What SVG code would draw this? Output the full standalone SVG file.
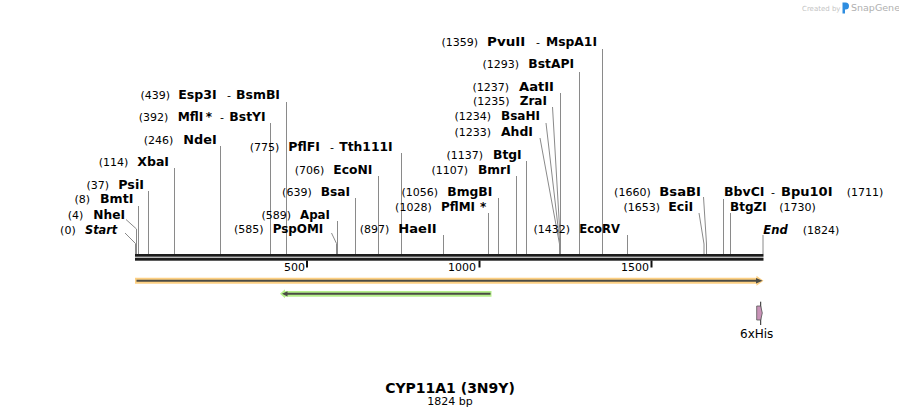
<svg xmlns="http://www.w3.org/2000/svg" width="899" height="417" viewBox="0 0 899 417">
<style>
text{font-family:"DejaVu Sans","Liberation Sans",sans-serif;fill:#000}
.p{font-size:11px}
.e{font-size:11px;text-anchor:end}
.n{font-size:12px;font-weight:bold}
.i{font-size:12px;font-weight:bold;font-style:italic}
.d{font-size:11px}
.cut{stroke:#8a8a8a;stroke-width:1;fill:none}
.tick{stroke:#111;stroke-width:2}
.wm{fill:#c4c4c4}
</style>
<rect width="899" height="417" fill="#fff"/>
<g id="watermark">
<text x="802" y="10.5" class="wm" style="font-size:7px">Created by</text>
<path d="M842.5,2.5 h3 a3.5,3.5 0 0 1 0,7 h-0.5 v4 h-2.5 z" fill="#2e8de0"/>
<text x="851" y="11" class="wm" style="font-size:9.5px;fill:#b0b0b0">SnapGene</text>
</g>
<g id="connectors">
<polyline class="cut" points="125,233 135.5,243.5 135.5,254"/>
<polyline class="cut" points="126,219.5 136.5,229 136.5,254"/>
<line class="cut" x1="138.5" y1="206" x2="138.5" y2="254"/>
<line class="cut" x1="148.5" y1="191" x2="148.5" y2="254"/>
<line class="cut" x1="174.5" y1="168" x2="174.5" y2="254"/>
<line class="cut" x1="220.5" y1="146" x2="220.5" y2="254"/>
<line class="cut" x1="270.5" y1="123" x2="270.5" y2="254"/>
<line class="cut" x1="286.5" y1="102" x2="286.5" y2="254"/>
<polyline class="cut" points="331.5,233 336.5,243.5 336.5,254"/>
<line class="cut" x1="337.5" y1="221" x2="337.5" y2="254"/>
<line class="cut" x1="355.5" y1="198" x2="355.5" y2="254"/>
<line class="cut" x1="378.5" y1="176" x2="378.5" y2="254"/>
<line class="cut" x1="401.5" y1="153" x2="401.5" y2="254"/>
<line class="cut" x1="443.5" y1="235" x2="443.5" y2="254"/>
<line class="cut" x1="488.5" y1="213" x2="488.5" y2="254"/>
<line class="cut" x1="498.5" y1="198" x2="498.5" y2="254"/>
<line class="cut" x1="516.5" y1="176" x2="516.5" y2="254"/>
<line class="cut" x1="526.5" y1="161" x2="526.5" y2="254"/>
<polyline class="cut" points="540,138 559.5,244 559.5,254"/>
<polyline class="cut" points="546,123 560,244 560,254"/>
<polyline class="cut" points="552.5,107 560.5,244 560.5,254"/>
<line class="cut" x1="560.5" y1="93" x2="560.5" y2="254"/>
<line class="cut" x1="579.5" y1="72" x2="579.5" y2="254"/>
<line class="cut" x1="602.5" y1="49" x2="602.5" y2="254"/>
<line class="cut" x1="627.5" y1="235" x2="627.5" y2="254"/>
<polyline class="cut" points="699,213 704,244 704,254"/>
<polyline class="cut" points="703.5,197 706.5,244 706.5,254"/>
<line class="cut" x1="723.5" y1="199" x2="723.5" y2="254"/>
<line class="cut" x1="730.5" y1="213" x2="730.5" y2="254"/>
<line class="cut" x1="763" y1="235" x2="763" y2="254"/>
</g>
<g id="backbone">
<rect x="135" y="254" width="628.5" height="2.7" fill="#1c1c1c"/>
<rect x="135" y="257.7" width="628.5" height="3" fill="#1c1c1c"/>
<line class="tick" x1="307" y1="260.5" x2="307" y2="267.5"/>
<line class="tick" x1="479.5" y1="260.5" x2="479.5" y2="267.5"/>
<line class="tick" x1="651.5" y1="260.5" x2="651.5" y2="267.5"/>
<text class="p" x="284" y="271">500</text>
<text class="p" x="448" y="271">1000</text>
<text class="p" x="621" y="271">1500</text>
</g>
<g id="feature-cyp11a1">
<polygon points="135,277.7 756.5,277.7 756.5,275.7 763.5,280.7 756.5,285.7 756.5,283.7 135,283.7" fill="#fdd083"/>
<line x1="136.5" y1="280.7" x2="757" y2="280.7" stroke="#4b4b45" stroke-width="2"/>
<polygon points="756,278 762.5,280.7 756,283.4" fill="#4b4b45"/>
</g>
<g id="feature-reverse">
<polygon points="491.5,291 285,291 285,289.3 280,293.8 285,298.3 285,296.7 491.5,296.7" fill="#b6f08c"/>
<line x1="287" y1="293.8" x2="490.5" y2="293.8" stroke="#4b4b45" stroke-width="2"/>
<polygon points="287.5,291.2 282,293.8 287.5,296.4" fill="#4b4b45"/>
</g>
<g id="feature-6xHis">
<line x1="760.7" y1="301.7" x2="760.7" y2="325" stroke="#222" stroke-width="1"/>
<polygon points="756.7,306 760.7,306 762.3,313 760.7,320 756.7,320" fill="#c993b8" stroke="#555" stroke-width="0.8"/>
<text x="740" y="338" style="font-size:12px">6xHis</text>
</g>
<g id="site-start"><text class="e" x="75.7" y="234">(0)</text><text class="i" x="85" y="234" textLength="32.3" lengthAdjust="spacingAndGlyphs">Start</text></g>
<g id="site-NheI"><text class="e" x="83.3" y="219">(4)</text><text class="n" x="93.3" y="219" textLength="31.7" lengthAdjust="spacingAndGlyphs">NheI</text></g>
<g id="site-BmtI"><text class="e" x="90" y="203">(8)</text><text class="n" x="100" y="203" textLength="33.3" lengthAdjust="spacingAndGlyphs">BmtI</text></g>
<g id="site-PsiI"><text class="e" x="109" y="189">(37)</text><text class="n" x="118.3" y="189" textLength="25.7" lengthAdjust="spacingAndGlyphs">PsiI</text></g>
<g id="site-XbaI"><text class="e" x="128.3" y="166">(114)</text><text class="n" x="137.3" y="166" textLength="31.7" lengthAdjust="spacingAndGlyphs">XbaI</text></g>
<g id="site-NdeI"><text class="e" x="173.3" y="144">(246)</text><text class="n" x="183.3" y="144" textLength="33.4" lengthAdjust="spacingAndGlyphs">NdeI</text></g>
<g id="site-MflI"><text class="e" x="168.3" y="121">(392)</text><text class="n" x="177.7" y="121" textLength="25.6" lengthAdjust="spacingAndGlyphs">MflI</text><text class="n" x="205.7" y="121">*</text><text class="d" x="220" y="121">-</text><text class="n" x="229.3" y="121" textLength="36.4" lengthAdjust="spacingAndGlyphs">BstYI</text></g>
<g id="site-Esp3I"><text class="e" x="170" y="99">(439)</text><text class="n" x="178.3" y="99" textLength="38.4" lengthAdjust="spacingAndGlyphs">Esp3I</text><text class="d" x="227" y="99">-</text><text class="n" x="236" y="99" textLength="44" lengthAdjust="spacingAndGlyphs">BsmBI</text></g>
<g id="site-PspOMI"><text class="e" x="263.5" y="233">(585)</text><text class="n" x="272.7" y="233" textLength="50.6" lengthAdjust="spacingAndGlyphs">PspOMI</text></g>
<g id="site-ApaI"><text class="e" x="291" y="219">(589)</text><text class="n" x="300" y="219" textLength="30" lengthAdjust="spacingAndGlyphs">ApaI</text></g>
<g id="site-BsaI"><text class="e" x="311.7" y="196">(639)</text><text class="n" x="320.7" y="196" textLength="29.3" lengthAdjust="spacingAndGlyphs">BsaI</text></g>
<g id="site-EcoNI"><text class="e" x="324.3" y="174">(706)</text><text class="n" x="333.3" y="174" textLength="39" lengthAdjust="spacingAndGlyphs">EcoNI</text></g>
<g id="site-PflFI"><text class="e" x="279.3" y="151">(775)</text><text class="n" x="288.3" y="151" textLength="31.7" lengthAdjust="spacingAndGlyphs">PflFI</text><text class="d" x="330" y="151">-</text><text class="n" x="339.3" y="151" textLength="53.4" lengthAdjust="spacingAndGlyphs">Tth111I</text></g>
<g id="site-HaeII"><text class="e" x="389.3" y="233">(897)</text><text class="n" x="398.3" y="233" textLength="38.4" lengthAdjust="spacingAndGlyphs">HaeII</text></g>
<g id="site-PflMI"><text class="e" x="431.7" y="211">(1028)</text><text class="n" x="441" y="211" textLength="34" lengthAdjust="spacingAndGlyphs">PflMI</text><text class="n" x="480" y="211">*</text></g>
<g id="site-BmgBI"><text class="e" x="438" y="196">(1056)</text><text class="n" x="447.3" y="196" textLength="45" lengthAdjust="spacingAndGlyphs">BmgBI</text></g>
<g id="site-BmrI"><text class="e" x="468" y="174">(1107)</text><text class="n" x="478" y="174" textLength="32.7" lengthAdjust="spacingAndGlyphs">BmrI</text></g>
<g id="site-BtgI"><text class="e" x="483" y="159">(1137)</text><text class="n" x="493" y="159" textLength="28.7" lengthAdjust="spacingAndGlyphs">BtgI</text></g>
<g id="site-AhdI"><text class="e" x="491" y="136">(1233)</text><text class="n" x="501" y="136" textLength="32" lengthAdjust="spacingAndGlyphs">AhdI</text></g>
<g id="site-BsaHI"><text class="e" x="491" y="120">(1234)</text><text class="n" x="501" y="120" textLength="39" lengthAdjust="spacingAndGlyphs">BsaHI</text></g>
<g id="site-ZraI"><text class="e" x="509.5" y="105">(1235)</text><text class="n" x="519.7" y="105" textLength="27.3" lengthAdjust="spacingAndGlyphs">ZraI</text></g>
<g id="site-AatII"><text class="e" x="509" y="91">(1237)</text><text class="n" x="519" y="91" textLength="35" lengthAdjust="spacingAndGlyphs">AatII</text></g>
<g id="site-BstAPI"><text class="e" x="519" y="68">(1293)</text><text class="n" x="528.3" y="68" textLength="45.7" lengthAdjust="spacingAndGlyphs">BstAPI</text></g>
<g id="site-PvuII"><text class="e" x="478" y="46">(1359)</text><text class="n" x="487" y="46" textLength="38.3" lengthAdjust="spacingAndGlyphs">PvuII</text><text class="d" x="536" y="46">-</text><text class="n" x="546" y="46" textLength="51" lengthAdjust="spacingAndGlyphs">MspA1I</text></g>
<g id="site-EcoRV"><text class="e" x="570" y="233">(1432)</text><text class="n" x="579.3" y="233" textLength="40.7" lengthAdjust="spacingAndGlyphs">EcoRV</text></g>
<g id="site-BsaBI"><text class="e" x="650.7" y="196">(1660)</text><text class="n" x="659.3" y="196" textLength="41.7" lengthAdjust="spacingAndGlyphs">BsaBI</text></g>
<g id="site-EciI"><text class="e" x="660" y="211">(1653)</text><text class="n" x="668.3" y="211" textLength="25" lengthAdjust="spacingAndGlyphs">EciI</text></g>
<g id="site-BbvCI"><text class="n" x="724" y="196" textLength="40.5" lengthAdjust="spacingAndGlyphs">BbvCI</text><text class="d" x="771" y="196">-</text><text class="n" x="781" y="196" textLength="51.5" lengthAdjust="spacingAndGlyphs">Bpu10I</text><text class="p" x="846.7" y="196">(1711)</text></g>
<g id="site-BtgZI"><text class="n" x="730" y="211" textLength="36.7" lengthAdjust="spacingAndGlyphs">BtgZI</text><text class="p" x="779.3" y="211">(1730)</text></g>
<g id="site-end"><text class="i" x="763.3" y="234" textLength="24.4" lengthAdjust="spacingAndGlyphs">End</text><text class="p" x="802.7" y="234">(1824)</text></g>
<g id="title">
<text x="450" y="393" style="font-size:14px;font-weight:bold;text-anchor:middle">CYP11A1 (3N9Y)</text>
<text x="450" y="405" style="font-size:11px;text-anchor:middle">1824 bp</text>
</g>
</svg>
